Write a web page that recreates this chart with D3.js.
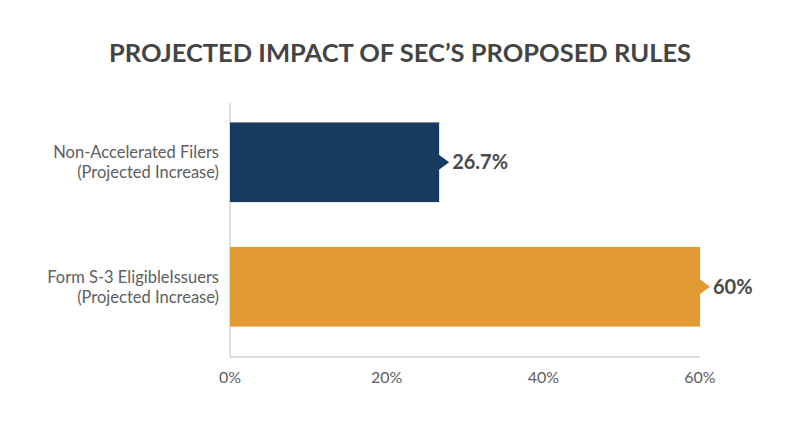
<!DOCTYPE html>
<html>
<head>
  <style>
    body{
      margin:0;
      background:#fff;
      font-family: Lato, sans-serif;
    }

    .title{
      fill:#444;
      font-weight:700;
      font-size:25.5px;
    }

    .cat-label{
      fill:#5e5e5e;
      font-weight:400;
      font-size:16.5px;
    }

    .value-label{
      fill:#4a4a4a;
      font-weight:700;
      font-size:20px;
    }

    .tick-label{
      fill:#5e5e5e;
      font-weight:400;
      font-size:16px;
    }
  </style>
  <script src="https://d3js.org/d3.v7.min.js"></script>
</head>
<body>
<div class="chart"></div>
<script>
const categories = [
  ['Non-Accelerated Filers', '(Projected Increase)'],
  ['Form S-3 EligibleIssuers', '(Projected Increase)']
];
const values = [26.7, 60];
const valueLabels = ['26.7%', '60%'];
const ticks = [0, 20, 40, 60];
const colours = ['#183a5f', '#e29b33'];

const width = 800;
const height = 447;

const svg = d3.select('.chart')
  .append('svg')
  .attr('width', width)
  .attr('height', height);

svg.append('text')
  .attr('class', 'title')
  .attr('x', 400)
  .attr('y', 62)
  .attr('text-anchor', 'middle')
  .text('PROJECTED IMPACT OF SEC\u2019S PROPOSED RULES');

const x = d3.scaleLinear()
  .domain([0, 60])
  .range([230, 700]);

const y = d3.scaleBand()
  .domain(d3.range(categories.length))
  .range([100, 349])
  .paddingInner(0.36)
  .paddingOuter(0.18);

// axis lines
svg.append('line')
  .attr('x1', x(0)).attr('x2', x(0))
  .attr('y1', 103).attr('y2', 357)
  .attr('stroke', '#d0d0d0')
  .attr('stroke-width', 1.5);

svg.append('line')
  .attr('x1', x(0)).attr('x2', x(60))
  .attr('y1', 357).attr('y2', 357)
  .attr('stroke', '#d0d0d0')
  .attr('stroke-width', 1.5);

svg.selectAll('.tick-label')
  .data(ticks)
  .enter()
  .append('text')
  .attr('class', 'tick-label')
  .attr('x', d => x(d))
  .attr('y', 383)
  .attr('text-anchor', 'middle')
  .text(d => d + '%');

const rows = svg.selectAll('.row')
  .data(values)
  .enter()
  .append('g')
  .attr('class', 'row');

rows.append('rect')
  .attr('x', x(0))
  .attr('y', (d, i) => y(i))
  .attr('width', d => x(d) - x(0))
  .attr('height', y.bandwidth())
  .attr('fill', (d, i) => colours[i]);

// little pointer on the bar end
rows.append('path')
  .attr('fill', (d, i) => colours[i])
  .attr('d', (d, i) => {
    const cx = x(d);
    const cy = y(i) + y.bandwidth() / 2;
    return `M${cx - 1},${cy - 8}L${cx + 10},${cy}L${cx - 1},${cy + 8}Z`;
  });

rows.append('text')
  .attr('class', 'value-label')
  .attr('x', d => x(d) + 13)
  .attr('y', (d, i) => y(i) + y.bandwidth() / 2 + 7)
  .text((d, i) => valueLabels[i]);

rows.append('text')
  .attr('class', 'cat-label')
  .attr('text-anchor', 'end')
  .attr('x', 219)
  .attr('y', (d, i) => y(i) + y.bandwidth() / 2 - 4)
  .call(t => {
    t.append('tspan')
      .attr('x', 219)
      .text((d, i) => categories[i][0]);
    t.append('tspan')
      .attr('x', 219)
      .attr('dy', 20)
      .text((d, i) => categories[i][1]);
  });
</script>
</body>
</html>
